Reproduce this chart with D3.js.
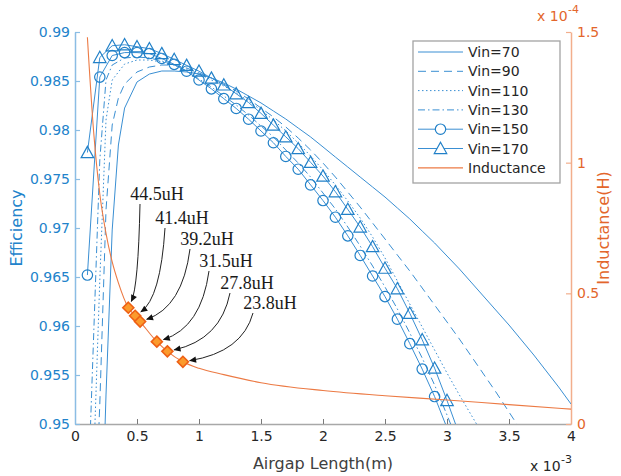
<!DOCTYPE html>
<html>
<head>
<meta charset="utf-8">
<script src="https://cdn.jsdelivr.net/npm/d3@7"></script>
<style>
  html, body { margin: 0; padding: 0; background: #fff; }
  svg { display: block; font-family: "DejaVu Sans", Verdana, sans-serif; }
</style>
</head>
<body>
<svg id="chart" width="621" height="476"></svg>
<script>
// ---------------- data ----------------
// Airgap lengths are in mm (axis shown as x10^-3 m); efficiency is a fraction.
const gap70 = [0.2,0.25,0.3,0.35,0.4,0.5,0.6,0.7,0.8,0.9,1.0,1.1,1.2,1.3,1.4,1.5,1.6,1.7,1.8,1.9,2.0,
  2.1,2.2,2.3,2.4,2.5,2.6,2.7,2.8,2.9,3.0,3.1,3.2,3.3,3.4,3.5,3.6,3.7,3.8,3.9,4.0];
const eff70 = [0.93204,0.95296,0.96980,0.97847,0.98224,0.98490,0.98571,0.98602,0.98602,0.98592,0.98571,
  0.98531,0.98480,0.98418,0.98347,0.98276,0.98194,0.98112,0.98020,0.97929,0.97827,
  0.97724,0.97622,0.97520,0.97418,0.97316,0.97204,0.97092,0.96969,0.96847,0.96714,
  0.96582,0.96439,0.96296,0.96153,0.96010,0.95857,0.95704,0.95541,0.95378,0.95204];

const gap90 = [0.15,0.2,0.25,0.3,0.35,0.4,0.5,0.6,0.7,0.8,0.9,1.0,1.1,1.2,1.3,1.4,1.5,1.6,1.7,1.8,1.9,2.0,
  2.1,2.2,2.3,2.4,2.5,2.6,2.7,2.8,2.9,3.0,3.1,3.2,3.3,3.4,3.5,3.6,3.7];
const eff90 = [0.93612,0.95204,0.97184,0.98051,0.98327,0.98469,0.98592,0.98643,0.98663,0.98663,0.98633,0.98582,
  0.98531,0.98469,0.98398,0.98316,0.98224,0.98133,0.98031,0.97918,0.97796,0.97663,
  0.97520,0.97367,0.97214,0.97051,0.96888,0.96724,0.96561,0.96388,0.96214,0.96041,
  0.95867,0.95684,0.95500,0.95316,0.95122,0.94929,0.94724];

const gap110 = [0.15,0.2,0.25,0.3,0.4,0.5,0.6,0.7,0.8,0.9,1.0,1.1,1.2,1.3,1.4,1.5,1.6,1.7,1.8,1.9,2.0,
  2.1,2.2,2.3,2.4,2.5,2.6,2.7,2.8,2.9,3.0,3.1,3.2,3.3];
const eff110 = [0.94592,0.96469,0.98102,0.98510,0.98673,0.98714,0.98714,0.98694,0.98663,0.98622,0.98571,
  0.98510,0.98449,0.98378,0.98296,0.98204,0.98102,0.97990,0.97867,0.97735,0.97592,
  0.97439,0.97276,0.97102,0.96908,0.96694,0.96459,0.96224,0.95990,0.95755,0.95520,
  0.95296,0.95082,0.94867];

const gap130 = [0.1,0.2,0.25,0.3,0.4,0.5,0.6,0.7,0.8,0.9,1.0,1.1,1.2,1.3,1.4,1.5,1.6,1.7,1.8,1.9,2.0,
  2.1,2.2,2.3,2.4,2.5,2.6,2.7,2.8,2.9,3.0,3.1];
const eff130 = [0.94082,0.97694,0.98510,0.98663,0.98735,0.98745,0.98735,0.98704,0.98663,0.98602,0.98520,
  0.98439,0.98347,0.98255,0.98153,0.98041,0.97929,0.97796,0.97663,0.97520,0.97357,
  0.97194,0.97010,0.96816,0.96612,0.96398,0.96173,0.95929,0.95673,0.95398,0.95092,
  0.94776];

// marked series share the 0.1 mm grid
const gapMarked = [0.1,0.2,0.3,0.4,0.5,0.6,0.7,0.8,0.9,1.0,1.1,1.2,1.3,1.4,1.5,1.6,1.7,1.8,1.9,2.0,
  2.1,2.2,2.3,2.4,2.5,2.6,2.7,2.8,2.9,3.0,3.1];
const eff150 = [0.9652,0.9854,0.9876,0.9879,0.9879,0.9878,0.9873,0.9867,0.9860,0.9851,
  0.9842,0.9832,0.9822,0.9811,0.9799,0.9787,0.9773,0.9760,0.9744,0.9728,
  0.9711,0.9692,0.9672,0.9651,0.9630,0.9607,0.9582,0.9556,0.9528,0.9496];
const eff170 = [0.9777,0.9874,0.9886,0.9887,0.9885,0.9883,0.9878,0.9872,0.9866,0.9860,
  0.9853,0.9846,0.9837,0.9828,0.9817,0.9805,0.9793,0.9781,0.9767,0.9753,
  0.9737,0.9719,0.9701,0.9681,0.9659,0.9638,0.9613,0.9586,0.9557,0.9524,0.9489];

// inductance (uH) versus airgap (mm)
const gapInd = [0.1,0.15,0.2,0.25,0.3,0.35,0.43,0.485,0.525,0.66,0.745,0.87,1.0,1.2,1.5,2.0,2.5,3.0,3.5,4.0];
const indUH  = [148,112,88,73,62,54,44.5,41.4,39.2,31.5,27.8,23.8,21.3,18.9,15.8,12.8,10.8,9.2,7.4,5.7];

// highlighted inductance points
const markGap = [0.43,0.485,0.525,0.66,0.745,0.87];
const markUH  = [44.5,41.4,39.2,31.5,27.8,23.8];

const seriesNames = ["Vin=70","Vin=90","Vin=110","Vin=130","Vin=150","Vin=170"];
const xTicks = [0,0.5,1,1.5,2,2.5,3,3.5,4];
const xTickLabels = ["0","0.5","1","1.5","2","2.5","3","3.5","4"];
const effTicks = [0.95,0.955,0.96,0.965,0.97,0.975,0.98,0.985,0.99];
const effTickLabels = ["0.95","0.955","0.96","0.965","0.97","0.975","0.98","0.985","0.99"];
const indTicks = [0,50,100,150];
const indTickLabels = ["0","0.5","1","1.5"];

// ---------------- layout ----------------
const L = 75, R = 571, T = 32, B = 424;
const BLUE_TXT = "#2283cb", BLUE_AX = "#8bbde4", BLUE_LN = "#3a8fd3", BLUE_MK = "#2180c8";
const ORG_TXT = "#e3662c", ORG_AX = "#f2ae8c", ORG_LN = "#ec7a44";
const GRAY_AX = "#a8a8a8", DARK = "#262626";

const svg = d3.select("#chart");
const x = d3.scaleLinear([0, 4], [L, R]);
const yEff = d3.scaleLinear([0.95, 0.99], [B, T]);
const yInd = d3.scaleLinear([0, 150], [B, T]);

svg.append("defs").append("clipPath").attr("id", "plotClip")
  .append("rect").attr("x", L).attr("y", T).attr("width", R - L).attr("height", B - T);

// ---- axes ----
const gx = svg.append("g").attr("transform", `translate(0,${B})`)
  .call(d3.axisBottom(x).tickValues(xTicks).tickFormat((d, i) => xTickLabels[i])
    .tickSizeInner(-5).tickSizeOuter(0).tickPadding(7));
gx.select(".domain").attr("stroke", GRAY_AX).attr("stroke-width", 1.5);
gx.selectAll(".tick line").attr("stroke", "#7a7a7a");
gx.selectAll(".tick text").attr("fill", DARK).attr("font-size", 14).attr("font-family", "DejaVu Sans");

const gl = svg.append("g").attr("transform", `translate(${L},0)`)
  .call(d3.axisLeft(yEff).tickValues(effTicks).tickFormat((d, i) => effTickLabels[i])
    .tickSizeInner(-5).tickSizeOuter(0).tickPadding(5));
gl.select(".domain").attr("stroke", BLUE_AX).attr("stroke-width", 1.5);
gl.selectAll(".tick line").attr("stroke", BLUE_AX).attr("stroke-width", 1.2);
gl.selectAll(".tick text").attr("fill", BLUE_TXT).attr("font-size", 14).attr("font-family", "DejaVu Sans");

const gr = svg.append("g").attr("transform", `translate(${R},0)`)
  .call(d3.axisRight(yInd).tickValues(indTicks).tickFormat((d, i) => indTickLabels[i])
    .tickSizeInner(-5).tickSizeOuter(0).tickPadding(6));
gr.select(".domain").attr("stroke", ORG_AX).attr("stroke-width", 1.5);
gr.selectAll(".tick line").attr("stroke", ORG_AX).attr("stroke-width", 1.2);
gr.selectAll(".tick text").attr("fill", ORG_TXT).attr("font-size", 14).attr("font-family", "DejaVu Sans");

// axis titles
svg.append("text").attr("x", (L + R) / 2).attr("y", 469).attr("text-anchor", "middle")
  .attr("font-size", 16).attr("fill", "#404040").text("Airgap Length(m)");
svg.append("text").attr("transform", `translate(22,${(T + B) / 2}) rotate(-90)`)
  .attr("text-anchor", "middle").attr("font-size", 16).attr("fill", BLUE_TXT).text("Efficiency");
svg.append("text").attr("transform", `translate(609,${(T + B) / 2}) rotate(-90)`)
  .attr("text-anchor", "middle").attr("font-size", 16).attr("fill", ORG_TXT).text("Inductance(H)");

// exponent notes
svg.append("text").attr("x", 530).attr("y", 471).attr("font-size", 14).attr("fill", DARK).text("x 10");
svg.append("text").attr("x", 561).attr("y", 463).attr("font-size", 11).attr("fill", DARK).text("-3");
svg.append("text").attr("x", 537).attr("y", 21).attr("font-size", 14).attr("fill", ORG_TXT).text("x 10");
svg.append("text").attr("x", 568).attr("y", 13).attr("font-size", 11).attr("fill", ORG_TXT).text("-4");

// ---- efficiency series ----
const styles = [
  { dash: null },
  { dash: "8,5" },
  { dash: "1.5,2.5" },
  { dash: "7,3,1.5,3" },
  { dash: null, marker: "circle" },
  { dash: null, marker: "triangle" }
];
const seriesData = [
  d3.zip(gap70, eff70),
  d3.zip(gap90, eff90),
  d3.zip(gap110, eff110),
  d3.zip(gap130, eff130),
  d3.zip(gapMarked.slice(0, eff150.length), eff150),
  d3.zip(gapMarked.slice(0, eff170.length), eff170)
];

const plot = svg.append("g").attr("clip-path", "url(#plotClip)");
const line = d3.line().x(d => x(d[0])).y(d => yEff(d[1]));

function triPath(cx, cy, s) {
  const h = s * 0.9;
  return `M${cx},${cy - h * 0.55}L${cx + s / 2},${cy + h * 0.45}L${cx - s / 2},${cy + h * 0.45}Z`;
}

seriesData.forEach((pts, i) => {
  const st = styles[i];
  plot.append("path").datum(pts).attr("d", line)
    .attr("fill", "none").attr("stroke", BLUE_LN).attr("stroke-width", 1)
    .attr("stroke-dasharray", st.dash);
  const vis = pts.filter(d => d[1] >= 0.95);
  if (st.marker === "circle") {
    plot.selectAll(null).data(vis).join("circle")
      .attr("cx", d => x(d[0])).attr("cy", d => yEff(d[1])).attr("r", 5.2)
      .attr("fill", "none").attr("stroke", BLUE_MK).attr("stroke-width", 1.2);
  } else if (st.marker === "triangle") {
    plot.selectAll(null).data(vis).join("path")
      .attr("d", d => triPath(x(d[0]), yEff(d[1]), 12.5))
      .attr("fill", "none").attr("stroke", BLUE_MK).attr("stroke-width", 1.2);
  }
});

// ---- inductance curve ----
const indLine = d3.line().x(d => x(d[0])).y(d => yInd(d[1])).curve(d3.curveMonotoneX);
plot.append("path").datum(d3.zip(gapInd, indUH)).attr("d", indLine)
  .attr("fill", "none").attr("stroke", ORG_LN).attr("stroke-width", 1.1);

// ---- annotated points ----
svg.select("defs").append("marker").attr("id", "arrowHead")
  .attr("viewBox", "0 0 10 10").attr("refX", 9).attr("refY", 5)
  .attr("markerUnits", "userSpaceOnUse").attr("markerWidth", 9).attr("markerHeight", 7)
  .attr("orient", "auto")
  .append("path").attr("d", "M0,0.5L10,5L0,9.5Z").attr("fill", "#111");

const labelCenters = [[157, 194], [182, 218], [207, 239], [226, 261], [247, 283], [270, 303]];
const ann = svg.append("g");
markGap.forEach((g, i) => {
  const ex = x(g), ey = yInd(markUH[i]);
  const [cx, cy] = labelCenters[i];
  const sx = cx - 17, sy = cy + 10;
  const qx = sx - 0.15 * (sx - ex), qy = sy + 0.8 * (ey - sy);
  const len = Math.hypot(qx - ex, qy - ey);
  const tx = ex + 7 * (qx - ex) / len, ty = ey + 7 * (qy - ey) / len;
  ann.append("path").attr("d", `M${sx},${sy}Q${qx},${qy} ${tx},${ty}`)
    .attr("fill", "none").attr("stroke", "#222").attr("stroke-width", 1)
    .attr("marker-end", "url(#arrowHead)");
  ann.append("text").attr("x", cx).attr("y", cy + 6).attr("text-anchor", "middle")
    .attr("font-family", "'Liberation Serif','Times New Roman',serif").attr("font-size", 18)
    .attr("fill", "#1a1a1a").text(markUH[i].toFixed(1) + "uH");
});
ann.selectAll(null).data(d3.zip(markGap, markUH)).join("path")
  .attr("d", d => {
    const cx = x(d[0]), cy = yInd(d[1]), r = 5.5;
    return `M${cx},${cy - r}L${cx + r},${cy}L${cx},${cy + r}L${cx - r},${cy}Z`;
  })
  .attr("fill", "#fb9a2c").attr("stroke", "#ee5f14").attr("stroke-width", 1.6);

// ---- legend ----
const lg = svg.append("g");
lg.append("rect").attr("x", 413).attr("y", 41).attr("width", 147).attr("height", 142)
  .attr("fill", "#fff").attr("stroke", "#a3a3a3").attr("stroke-width", 1.3);
const legendItems = seriesNames.map((n, i) => ({ name: n, style: styles[i], color: BLUE_LN }))
  .concat([{ name: "Inductance", style: { dash: null }, color: ORG_LN }]);
legendItems.forEach((it, i) => {
  const yy = 52 + i * 19.3;
  lg.append("line").attr("x1", 418).attr("x2", 463).attr("y1", yy).attr("y2", yy)
    .attr("stroke", it.color).attr("stroke-width", it.color === ORG_LN ? 1.3 : 1)
    .attr("stroke-dasharray", it.style.dash);
  if (it.style.marker === "circle") {
    lg.append("circle").attr("cx", 440.5).attr("cy", yy).attr("r", 5.2)
      .attr("fill", "#fff").attr("stroke", BLUE_MK).attr("stroke-width", 1.2);
  } else if (it.style.marker === "triangle") {
    lg.append("path").attr("d", triPath(440.5, yy, 12.5))
      .attr("fill", "#fff").attr("stroke", BLUE_MK).attr("stroke-width", 1.2);
  }
  lg.append("text").attr("x", 468).attr("y", yy).attr("dy", "0.36em")
    .attr("font-size", 14).attr("fill", DARK).text(it.name);
});
</script>
</body>
</html>
